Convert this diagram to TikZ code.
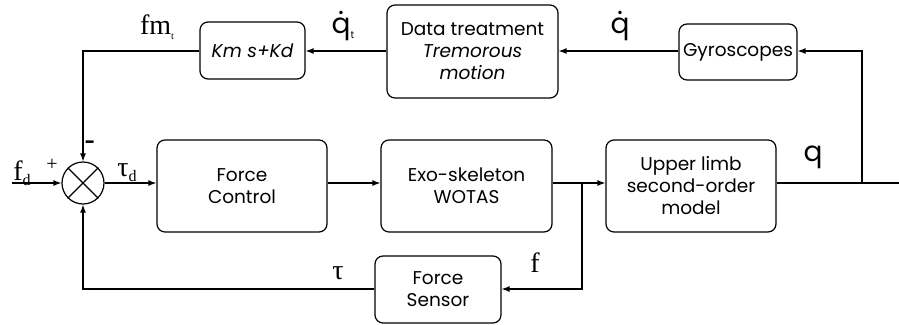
\documentclass[tikz,border=0pt]{standalone}
\usepackage{fontspec}
\setmainfont{Poppins}
\newfontfamily\lblserif{Liberation Serif}
\usetikzlibrary{arrows.meta}
\newcommand{\qdot}{\ooalign{q\cr\hidewidth\raisebox{0.68em}{.}\hidewidth\cr}}
\begin{document}
\begin{tikzpicture}[x=1pt,y=-1pt,
  blk/.style={draw,line width=1.2pt,rounded corners=8pt,align=center,inner sep=0pt,font=\fontsize{18.5}{22}\selectfont},
  conn/.style={line width=1.2pt},
  arr/.style={line width=1.2pt,-{Latex[length=8pt,width=6pt]}},
  slbl/.style={font=\lblserif\fontsize{28}{28}\selectfont,inner sep=0pt},
  qlbl/.style={font=\fontsize{28}{28}\selectfont,inner sep=0pt}]
\useasboundingbox (0,0) rectangle (899,324);
\node[blk,minimum width=105pt,minimum height=57pt] (km) at (252.5,50.5) {\itshape Km s+Kd};
\node[blk,minimum width=171pt,minimum height=93pt] (dt) at (472.5,51.5) {Data treatment\\\itshape Tremorous\\\itshape motion};
\node[blk,minimum width=118pt,minimum height=56pt] (gy) at (738,52) {Gyroscopes};
\node[blk,minimum width=170pt,minimum height=92pt] (fc) at (242,186) {Force\\Control};
\node[blk,minimum width=171pt,minimum height=92pt] (exo) at (466.5,186) {Exo-skeleton\\WOTAS};
\node[blk,minimum width=170pt,minimum height=92pt] (ul) at (691,186) {Upper limb\\second-order\\model};
\node[blk,minimum width=126pt,minimum height=67pt] (fs) at (438,289.5) {Force\\Sensor};
\node[draw,circle,line width=1.2pt,minimum size=42pt,inner sep=0pt] (sum) at (83,183) {};
\draw[line width=1.2pt] (sum.north west) -- (sum.south east) (sum.north east) -- (sum.south west);
\coordinate (in) at (12,183);
\coordinate (out) at (899,183);
\coordinate (br) at (862,183);
\coordinate (bf) at (582,183);
\coordinate (c1) at (83,51);
\coordinate (c2) at (862,51);
\coordinate (c3) at (582,289);
\coordinate (c4) at (83,289);
\draw[arr] (in) -- (sum.west);
\draw[arr] (sum.east) -- (fc.west |- sum);
\draw[arr] (fc.east |- sum) -- (exo.west |- sum);
\draw[arr] (exo.east |- sum) -- (ul.west |- sum);
\draw[conn] (ul.east |- sum) -- (out);
\draw[arr] (br) -- (c2) -- (gy.east |- c2);
\draw[arr] (gy.west |- c2) -- (dt.east |- c2);
\draw[arr] (dt.west |- c2) -- (km.east |- c2);
\draw[arr] (km.west |- c2) -- (c1) -- (sum.north);
\draw[arr] (bf) -- (c3) -- (fs.east |- c3);
\draw[arr] (fs.west |- c3) -- (c4) -- (sum.south);
\node[slbl] (lfm) at (157,27) {fm\raisebox{-5pt}{\fontsize{10}{10}\selectfont t}};
\node[qlbl] (lqt) at (343,28) {\qdot\raisebox{-5pt}{\fontsize{10}{10}\selectfont t}};
\node[qlbl] (lq1) at (620,26) {\qdot};
\node[qlbl] (lq2) at (813,157) {q};
\node[slbl] (lfd) at (22,173) {f\raisebox{-5pt}{\fontsize{16}{16}\selectfont d}};
\node[font=\lblserif\fontsize{20}{20}\selectfont,inner sep=0pt] (lp) at (52,165) {+};
\node[font=\bfseries\fontsize{18}{18}\selectfont,inner sep=0pt] (lm) at (90,145) {-};
\node[slbl] (ltd) at (127,173) {τ\raisebox{-5pt}{\fontsize{16}{16}\selectfont d}};
\node[slbl] (lt) at (338,273) {τ};
\node[slbl] (lf) at (535,263) {f};
\end{tikzpicture}
\end{document}
